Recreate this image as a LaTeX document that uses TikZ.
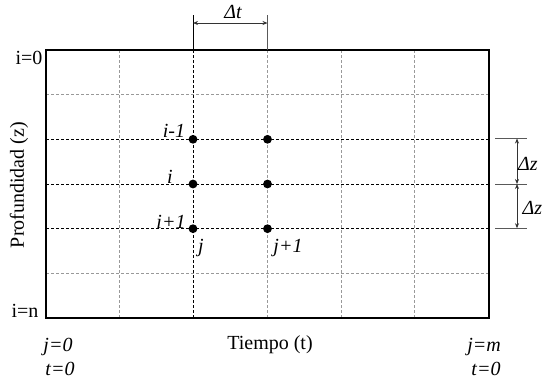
\documentclass[tikz,border=0pt]{standalone}
\usepackage{fontspec}
\setmainfont{Liberation Serif}
\usetikzlibrary{arrows.meta}
\begin{document}
\begin{tikzpicture}[x=1pt,y=-1pt,
  lbl/.style={inner sep=0pt,font=\fontsize{20}{22}\selectfont},
  ilbl/.style={lbl,font=\fontsize{20}{22}\selectfont\itshape},
  dot/.style={circle,fill=black,inner sep=0pt,minimum size=8.8pt},
  gridg/.style={densely dashed,gray!80,line width=0.7pt},
  gridk/.style={densely dashed,black,line width=0.7pt},
  dim/.style={gray!70!black,line width=0.7pt},
  dimarrow/.style={line width=0.7pt,black!80,{Stealth[length=5pt,width=4pt]}-{Stealth[length=5pt,width=4pt]}}]
\useasboundingbox (0,0) rectangle (546,381);
% grid
\foreach \x in {119.5,341,414} \draw[gridg] (\x,50) -- (\x,318);
\draw[gridg] (267.5,50) -- (267.5,318);
\draw[gridk] (193,50) -- (193,318);
\foreach \y in {94.7,273.3} \draw[gridg] (46,\y) -- (489,\y);
\foreach \y in {139.3,184,228.7} \draw[gridk] (46,\y) -- (489,\y);
\draw[line width=1.4pt] (46,50) rectangle (489,318);
% dots
\node[dot] (a1) at (193,139.3) {};
\node[dot] (a2) at (267.5,139.3) {};
\node[dot] (b1) at (193,184) {};
\node[dot] (b2) at (267.5,184) {};
\node[dot] (c1) at (193,228.7) {};
\node[dot] (c2) at (267.5,228.7) {};
% delta t
\coordinate (dtl) at (193,15);
\coordinate (dtr) at (267.5,15);
\coordinate (dtlb) at (193,50);
\coordinate (dtrb) at (267.5,50);
\draw[line width=0.8pt] (dtl) -- (dtlb);
\draw[dim] (dtr) -- (dtrb);
\coordinate (dtal) at (193,23);
\coordinate (dtar) at (267.5,23);
\draw[dimarrow] (dtal) -- (dtar);
\node[ilbl] (dt) at (233,12) {Δt};
% delta z
\coordinate (z1l) at (495,138.5); \coordinate (z1r) at (527,138.5);
\coordinate (z2l) at (495,184);   \coordinate (z2r) at (527,184);
\coordinate (z3l) at (495,228.2); \coordinate (z3r) at (527,228.2);
\draw[dim] (z1l) -- (z1r);
\draw[dim] (z2l) -- (z2r);
\draw[dim] (z3l) -- (z3r);
\coordinate (za) at (517,138.5); \coordinate (zb) at (517,184); \coordinate (zc) at (517,228.2);
\draw[dimarrow] (za) -- (zb);
\draw[dimarrow] (zb) -- (zc);
\node[ilbl,anchor=west] (dz1) at (518,164) {Δz};
\node[ilbl,anchor=west] (dz2) at (522.5,208) {Δz};
% labels
\node[ilbl] (lim1) at (174,131) {i-1};
\node[ilbl] (li) at (170,177) {i};
\node[ilbl] (lip1) at (171,222) {i+1};
\node[ilbl] (lj) at (201,248) {j};
\node[ilbl] (ljp1) at (288,248) {j+1};
\node[lbl] (i0) at (29,58) {i=0};
\node[lbl] (in) at (25,311) {i=n};
\node[lbl,rotate=90] (prof) at (19,185) {Profundidad (z)};
\node[lbl] (tiempo) at (270,345) {Tiempo (t)};
\node[ilbl] (j0) at (58,347) {j=0};
\node[ilbl] (t0) at (60,369) {t=0};
\node[ilbl] (jm) at (484,347) {j=m};
\node[ilbl] (t0b) at (486,369) {t=0};
\end{tikzpicture}
\end{document}
